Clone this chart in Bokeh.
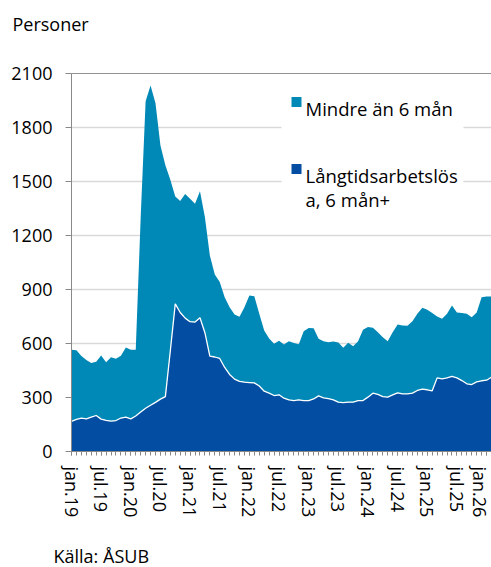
import math
from bokeh.plotting import figure
from bokeh.models import ColumnDataSource, FixedTicker, Label, BoxAnnotation, Span, Title
from bokeh.embed import file_html
from bokeh.resources import INLINE

# Monthly values, jan.19 .. feb.26 (persons)
long_term = [167, 178, 185, 181, 191, 200, 180, 173, 169, 172, 186, 191,
             181, 197, 219, 240, 257, 273, 291, 305, 560, 820, 772, 741,
             721, 719, 743, 660, 530, 525, 517, 467, 428, 402, 390, 385,
             383, 381, 364, 335, 324, 311, 315, 296, 287, 283, 287, 283,
             283, 292, 309, 298, 294, 287, 274, 272, 274, 274, 283, 283,
             302, 324, 317, 305, 302, 315, 326, 320, 320, 324, 339, 346,
             343, 337, 409, 404, 409, 417, 409, 394, 376, 372, 387, 393,
             396, 413]
short_term = [398, 384, 345, 327, 301, 298, 353, 323, 355, 343, 346, 387,
              384, 368, 1081, 1706, 1776, 1662, 1409, 1285, 950, 597, 619, 690,
              683, 657, 703, 642, 559, 458, 424, 390, 374, 359, 358, 417,
              484, 481, 401, 337, 304, 287, 300, 298, 325, 320, 309, 385,
              403, 393, 317, 315, 313, 324, 332, 304, 330, 311, 330, 393,
              389, 363, 346, 330, 311, 348, 379, 380, 378, 400, 426, 452,
              444, 432, 341, 333, 356, 394, 363, 376, 389, 374, 385, 464,
              465, 448]
tick_labels = ["jan.19", "jul.19", "jan.20", "jul.20", "jan.21", "jul.21",
               "jan.22", "jul.22", "jan.23", "jul.23", "jan.24", "jul.24",
               "jan.25", "jul.25", "jan.26"]
y_ticks = [0, 300, 600, 900, 1200, 1500, 1800, 2100]
series_names = ["Mindre än 6 mån", "Långtidsarbetslös\na, 6 mån+"]

CYAN = "#0089B6"
DARK = "#034EA2"
FONT = "Open Sans"
GRAY = "#898989"

n = len(long_term)
src = ColumnDataSource(dict(x=list(range(n)), long=long_term, short=short_term))

p = figure(width=491, height=567, x_range=(0, n - 1), y_range=(0, 2100),
           output_backend="svg", toolbar_location=None,
           min_border_left=71, min_border_right=0, min_border_top=73,
           min_border_bottom=116)
p.outline_line_color = None
p.background_fill_color = "white"
p.border_fill_color = "white"

p.varea_stack(["long", "short"], x="x", color=[DARK, CYAN], source=src)
p.line("x", "long", line_color="white", line_width=1.3, source=src)

# grid
p.xgrid.visible = False
p.ygrid.ticker = FixedTicker(ticks=y_ticks)
p.ygrid.grid_line_color = "#d9d9d9"
p.ygrid.grid_line_width = 1.3
p.add_layout(Span(location=2100, dimension="width", line_color="#262626", line_width=1.2))

# y axis
ya = p.yaxis[0]
ya.ticker = FixedTicker(ticks=y_ticks)
ya.axis_line_color = GRAY
ya.major_tick_line_color = GRAY
ya.major_tick_out = 6
ya.major_tick_in = 0
ya.minor_tick_out = 0
ya.minor_tick_in = 0
ya.major_label_text_font = FONT
ya.major_label_text_font_size = "18px"
ya.major_label_text_color = "black"
ya.major_label_standoff = 13

# x axis
xa = p.xaxis[0]
major = list(range(0, n, 6))
xa.ticker = FixedTicker(ticks=major, minor_ticks=list(range(n)))
xa.major_label_overrides = {m: lab for m, lab in zip(major, tick_labels)}
xa.major_label_orientation = "vertical"
xa.axis_line_color = GRAY
xa.major_tick_line_color = GRAY
xa.minor_tick_line_color = GRAY
xa.major_tick_out = 4
xa.major_tick_in = 0
xa.minor_tick_out = 4
xa.minor_tick_in = 0
xa.major_label_text_font = FONT
xa.major_label_text_font_size = "18px"
xa.major_label_text_color = "black"
xa.major_label_standoff = 11

# legend (manual, screen units relative to frame)
def sbox(l, r, t, b, color):
    return BoxAnnotation(left=l, right=r, top=t, bottom=b,
                         left_units="screen", right_units="screen",
                         top_units="screen", bottom_units="screen",
                         fill_color=color, fill_alpha=1, line_color=None)

p.add_layout(sbox(210, 392, 368, 246, "white"))
p.add_layout(sbox(220, 230, 354.5, 344.5, CYAN))
p.add_layout(sbox(220, 230, 287.5, 277.5, DARK))

lab1, lab2 = series_names
line_a, line_b = lab2.split("\n")
for txt, yy in [(lab1, 343.5), (line_a, 276), (line_b, 252)]:
    p.add_layout(Label(x=234, y=yy, x_units="screen", y_units="screen", text=txt,
                       text_font=FONT, text_font_size="18.5px", text_color="black",
                       text_baseline="alphabetic"))

# titles / source (spacers keep them at their place)
def spacer(gap):
    return Title(text=" ", text_font_size="1px", standoff=gap)

def side_text(txt, off):
    return Title(text=txt, align="left", offset=off, standoff=0,
                 text_font=FONT, text_font_size="18px", text_color="black",
                 text_font_style="normal")

p.add_layout(spacer(35), "above")
p.add_layout(side_text("Personer", -59), "above")
p.add_layout(spacer(18), "below")
p.add_layout(side_text("Källa: ÅSUB", -18), "below")

open("out.html", "w").write(file_html(p, INLINE))
